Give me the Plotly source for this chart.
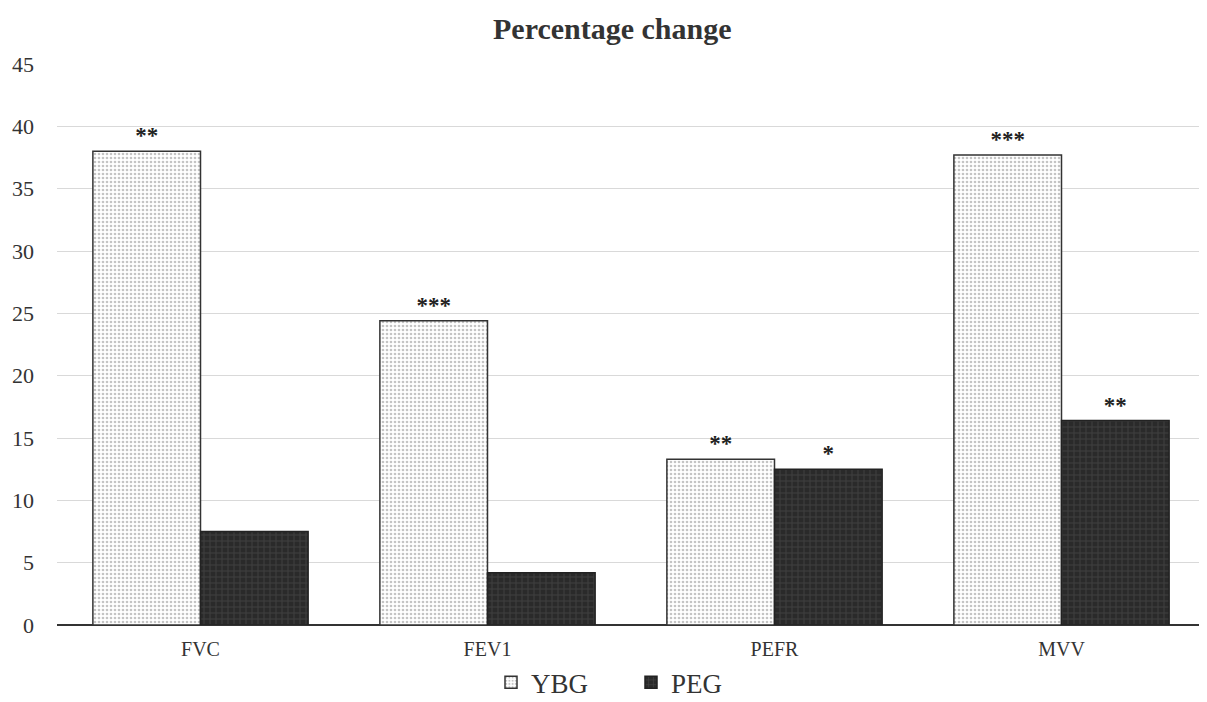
import plotly.graph_objects as go

categories = ["FVC", "FEV1", "PEFR", "MVV"]
ybg_values = [38.0, 24.4, 13.3, 37.7]
peg_values = [7.5, 4.2, 12.5, 16.4]
ybg_sig = ["**", "***", "**", "***"]
peg_sig = ["", "", "*", "**"]
y_ticks = [0, 5, 10, 15, 20, 25, 30, 35, 40, 45]

SERIF = "Liberation Serif"

fig = go.Figure()
fig.add_trace(go.Bar(
    name="YBG", x=categories, y=ybg_values,
    text=ybg_sig, textposition="outside",
    textfont=dict(family=SERIF, size=23, color="#222", weight="bold"),
    marker=dict(
        color="white",
        line=dict(color="#333", width=1.5),
        pattern=dict(shape=".", fgcolor="#8a8a8a", bgcolor="white", size=4, solidity=0.35),
    ),
    cliponaxis=False,
))
fig.add_trace(go.Bar(
    name="PEG", x=categories, y=peg_values,
    text=peg_sig, textposition="outside",
    textfont=dict(family=SERIF, size=23, color="#222", weight="bold"),
    marker=dict(
        color="#2a2a2a",
        line=dict(color="#222", width=1.5),
        pattern=dict(shape="+", fgcolor="#5c5c5c", bgcolor="#2a2a2a", size=6, solidity=0.25),
    ),
    cliponaxis=False,
))

# The page has an 8px body margin, so the figure is sized/offset to fit the window.
fig.update_layout(
    width=1199, height=694,
    paper_bgcolor="white", plot_bgcolor="white",
    barmode="group", bargap=0.25, bargroupgap=0,
    margin=dict(l=49, r=2, t=56, b=77, autoexpand=False),
    title=dict(text="<b>Percentage change</b>", x=0.504, xanchor="center", y=0.970, yanchor="middle",
               font=dict(family=SERIF, size=30, color="#333")),
    font=dict(family=SERIF, color="#333"),
    showlegend=True,
    legend=dict(orientation="h", x=0.5, xanchor="center", y=-0.103, yanchor="middle",
                font=dict(family=SERIF, size=27, color="#333"), itemwidth=30,
                entrywidth=95, traceorder="normal"),
    xaxis=dict(showgrid=False, showline=False, ticks="", automargin=False,
               tickfont=dict(family=SERIF, size=20, color="#333"), ticklabelstandoff=10),
    yaxis=dict(range=[0, 45], tickvals=y_ticks, showgrid=True, gridcolor="#d9d9d9", gridwidth=1.2,
               zeroline=True, zerolinecolor="#333", zerolinewidth=2, showline=False, automargin=False,
               tickfont=dict(family=SERIF, size=22, color="#333"), ticklabelstandoff=22),
)

fig.write_html("out.html")
